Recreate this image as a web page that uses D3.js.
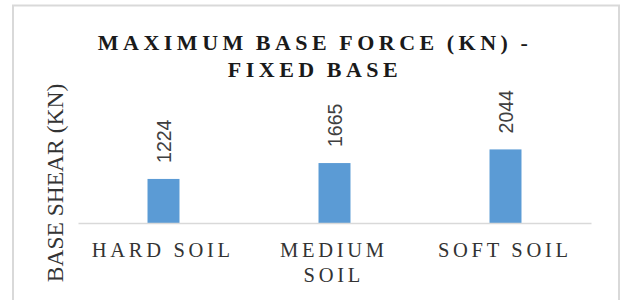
<!DOCTYPE html>
<html>
<head>
<meta charset="utf-8">
<script src="https://cdn.jsdelivr.net/npm/d3@7"></script>
<style>
	body { margin: 0; background: #fff; }
	svg { display: block; }
</style>
</head>
<body>
<script>
// Chart data
var categories = ['HARD SOIL', 'MEDIUM SOIL', 'SOFT SOIL'];
var values = [1224, 1665, 2044];
var titleLines = ['MAXIMUM BASE FORCE (KN) -', 'FIXED BASE'];
var yTitle = 'BASE SHEAR (KN)';

// Set dimensions
var width = 622,
	height = 300;
var plot = { left: 78, right: 591, top: 133, bottom: 223 };

// Set scales
var x = d3
	.scaleBand()
	.domain(categories)
	.range([plot.left, plot.right])
	.paddingInner(0.813)
	.paddingOuter(0.4065);
var y = d3.scaleLinear().domain([0, 2500]).range([plot.bottom, plot.top]);

// Add svg to body
var svg = d3
	.select('body')
	.append('svg')
	.attr('width', width)
	.attr('height', height);

// Chart border
svg
	.append('rect')
	.attr('x', 13)
	.attr('y', 5.5)
	.attr('width', 606)
	.attr('height', 310)
	.attr('fill', '#fff')
	.attr('stroke', '#d9d9d9')
	.attr('stroke-width', 2);

// Title
svg
	.append('text')
	.attr('text-anchor', 'middle')
	.style('font-family', '"Liberation Serif", serif')
	.style('font-weight', 'bold')
	.style('font-size', '22px')
	.style('letter-spacing', '4.5px')
	.style('word-spacing', '-2px')
	.attr('fill', '#1a1a1a')
	.selectAll('tspan')
	.data(titleLines)
	.enter()
	.append('tspan')
	.attr('x', 315)
	.attr('y', (d, i) => 49.5 + i * 27.5)
	.text(d => d);

// Y-axis title
svg
	.append('text')
	.attr('transform', 'translate(63,183) rotate(-90)')
	.attr('text-anchor', 'middle')
	.style('font', '23.5px "Liberation Serif", serif')
	.attr('fill', '#333')
	.text(yTitle);

// Bars
svg
	.selectAll('.bar')
	.data(values)
	.enter()
	.append('rect')
	.attr('class', 'bar')
	.attr('x', (d, i) => x(categories[i]))
	.attr('y', d => y(d))
	.attr('width', x.bandwidth())
	.attr('height', d => y(0) - y(d))
	.attr('fill', '#5b9bd5');

// Baseline via x-axis
var xAxis = svg
	.append('g')
	.attr('transform', 'translate(0,' + plot.bottom + ')')
	.call(d3.axisBottom(x).tickSize(0).tickPadding(0));
xAxis.select('.domain').attr('stroke', '#d9d9d9').attr('stroke-width', 1.5);
xAxis.selectAll('.tick text').remove();

// Category labels with wrapping
svg
	.selectAll('.cat')
	.data(categories)
	.enter()
	.append('text')
	.attr('class', 'cat')
	.attr('text-anchor', 'middle')
	.style('font', '20.5px "Liberation Serif", serif')
	.style('letter-spacing', '3.7px')
	.attr('fill', '#333')
	.each(function(d) {
		var el = d3.select(this);
		var cx = x(d) + x.bandwidth() / 2 - 0.7;
		var lines = [d];
		el.text(d);
		if (this.getComputedTextLength() > 160) lines = d.split(' ');
		el.text(null);
		lines.forEach((t, i) => {
			el.append('tspan')
				.attr('x', cx)
				.attr('y', plot.bottom + 33.5 + i * 25)
				.text(t);
		});
	});

// Data labels
svg
	.selectAll('.label')
	.data(values)
	.enter()
	.append('text')
	.attr('class', 'label')
	.attr('transform', (d, i) => 'translate(' + (x(categories[i]) + x.bandwidth() / 2) + ',' + (y(d) - 16) + ') rotate(-90)')
	.attr('dy', '0.36em')
	.style('font', '19.5px "Liberation Sans", sans-serif')
	.attr('fill', '#404040')
	.text(d => d);
</script>
</body>
</html>
